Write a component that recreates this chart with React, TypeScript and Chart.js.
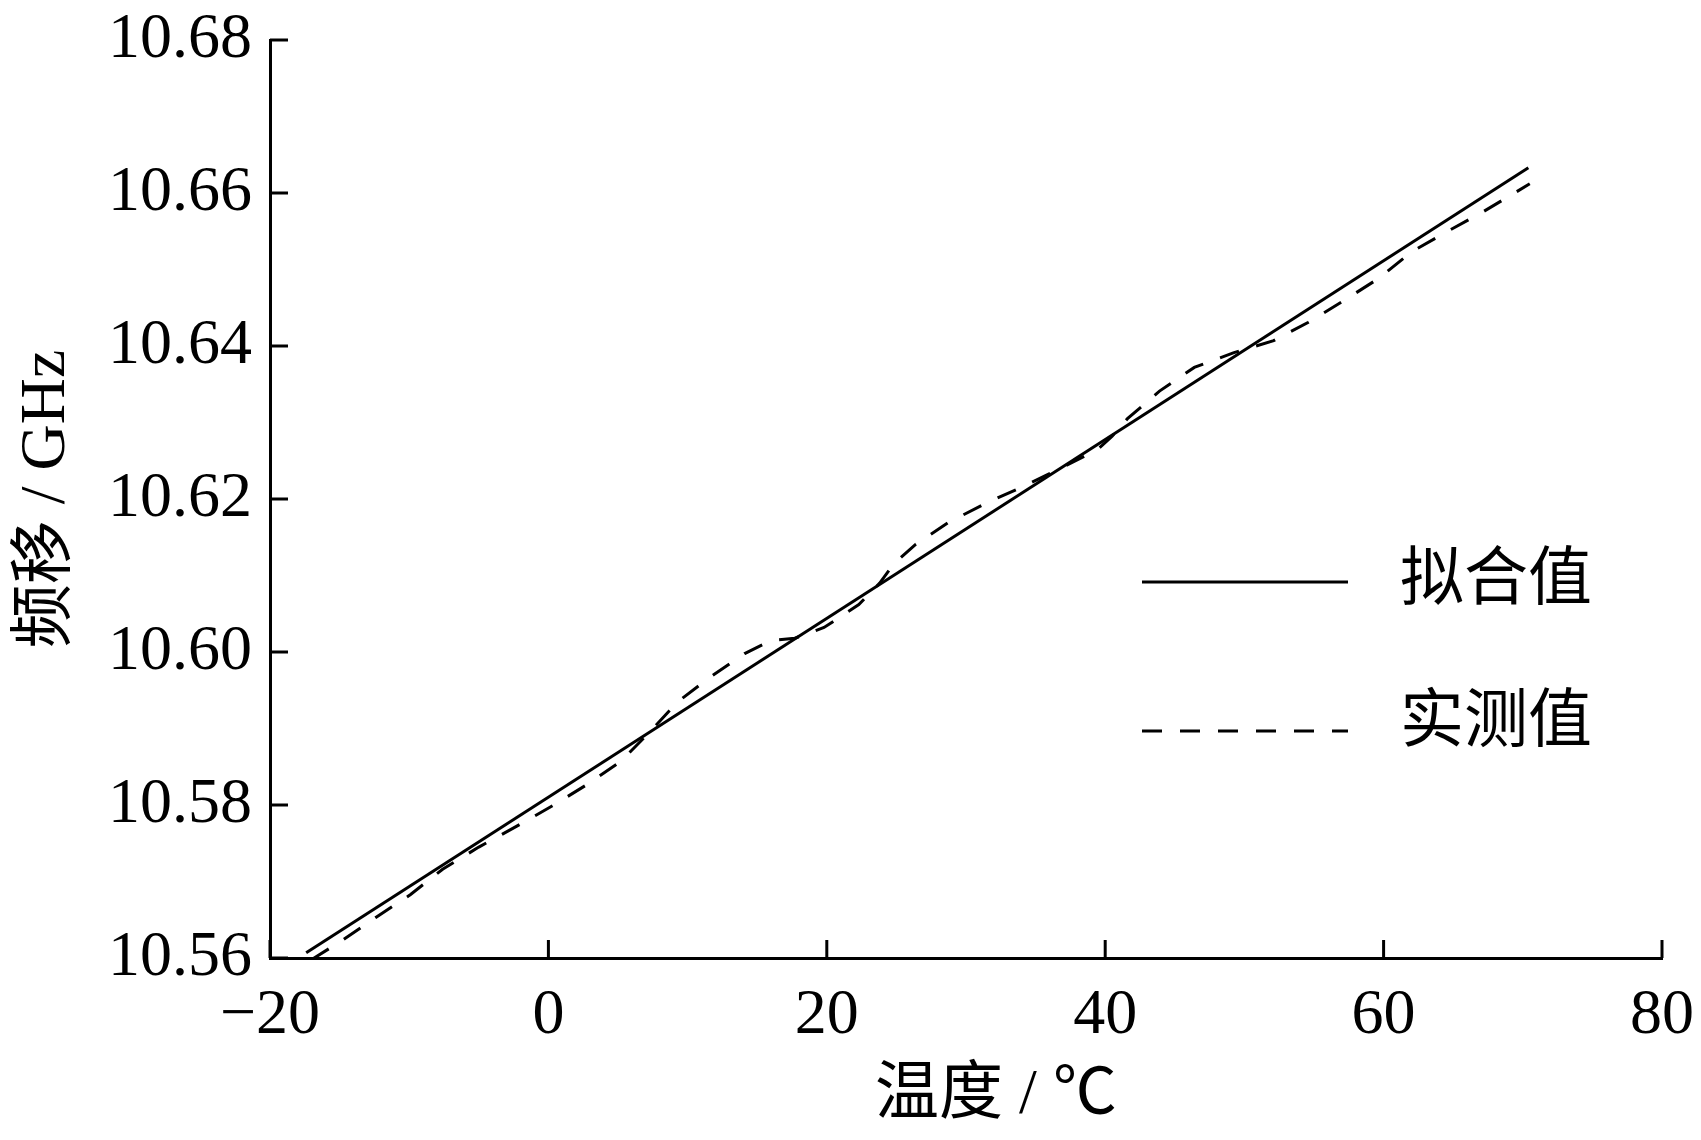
import React, { useEffect, useRef } from "react";
import { Chart, registerables } from "chart.js";

Chart.register(...registerables);

// ---- data ----
const fitTemps = [-17.4, 70.4];
const fitValues = [10.5607, 10.6633];

const measuredTemps = [
  -17.0, -14.9, -12.4, -9.9, -7.6, -5.0, -2.3, 0.3, 2.8, 5.2, 7.2, 9.3, 11.6,
  14.1, 16.0, 17.7, 19.8, 22.3, 23.8, 24.8, 26.4, 28.8, 31.5, 34.3, 37.0, 39.4,
  40.5, 41.6, 43.9, 46.4, 49.2, 52.1, 54.6, 57.2, 59.7, 62.0, 64.6, 67.2, 70.5,
];
const measuredValues = [
  10.5598, 10.5622, 10.5653, 10.5683, 10.5716, 10.5745, 10.5772, 10.5799,
  10.5827, 10.5857, 10.5894, 10.5935, 10.5967, 10.5998, 10.6015, 10.6018,
  10.6032, 10.6062, 10.609, 10.6115, 10.6141, 10.617, 10.6195, 10.6218,
  10.6242, 10.6264, 10.6282, 10.6305, 10.6341, 10.6372, 10.6391, 10.6407,
  10.6431, 10.646, 10.6489, 10.6523, 10.655, 10.6576, 10.6612,
];

const xTicks = [-20, 0, 20, 40, 60, 80];
const yTicks = [10.56, 10.58, 10.6, 10.62, 10.64, 10.66, 10.68];
const seriesNames = ["拟合值", "实测值"];
const xTitle = "温度 / ℃";
const yTitle = "频移 / GHz";

const FONT = "'Liberation Serif', 'Noto Sans CJK SC', serif";

const inwardTicks = {
  id: "inwardTicks",
  afterDatasetsDraw(chart: any) {
    const { ctx, chartArea, scales } = chart;
    const len = 18;
    ctx.save();
    ctx.strokeStyle = "#000";
    ctx.lineWidth = 3;
    scales.x.ticks.forEach((_t: any, i: number) => {
      const px = scales.x.getPixelForTick(i);
      ctx.beginPath();
      ctx.moveTo(px, chartArea.bottom);
      ctx.lineTo(px, chartArea.bottom - len);
      ctx.stroke();
    });
    scales.y.ticks.forEach((_t: any, i: number) => {
      const py = scales.y.getPixelForTick(i);
      ctx.beginPath();
      ctx.moveTo(chartArea.left, py);
      ctx.lineTo(chartArea.left + len, py);
      ctx.stroke();
    });
    ctx.restore();
  },
};

const xAxisTitle = {
  id: "xAxisTitle",
  afterDraw(chart: any, _args: any, opts: any) {
    const { ctx, chartArea } = chart;
    ctx.save();
    ctx.fillStyle = "#000";
    ctx.font = `64px ${FONT}`;
    ctx.textAlign = "center";
    ctx.textBaseline = "middle";
    ctx.fillText(opts.text, (chartArea.left + chartArea.right) / 2 + opts.dx, opts.y);
    ctx.restore();
  },
};

const innerLegend = {
  id: "innerLegend",
  afterDraw(chart: any, _args: any, opts: any) {
    const { ctx } = chart;
    ctx.save();
    chart.data.datasets.forEach((ds: any, i: number) => {
      const y = opts.rows[i];
      ctx.strokeStyle = ds.borderColor;
      ctx.lineWidth = ds.borderWidth;
      ctx.setLineDash(ds.borderDash || []);
      ctx.beginPath();
      ctx.moveTo(opts.lineX0, y);
      ctx.lineTo(opts.lineX1, y);
      ctx.stroke();
      ctx.setLineDash([]);
      ctx.fillStyle = "#000";
      ctx.font = `64px ${FONT}`;
      ctx.textBaseline = "middle";
      ctx.textAlign = "left";
      ctx.fillText(ds.label, opts.textX, opts.textRows[i]);
    });
    ctx.restore();
  },
};

export default function App() {
  const ref = useRef<HTMLCanvasElement>(null);

  useEffect(() => {
    document.body.style.margin = "0";
    const canvas = ref.current!;
    const chart = new Chart(canvas, {
      type: "line",
      data: {
        datasets: [
          {
            label: seriesNames[0],
            data: fitTemps.map((x, i) => ({ x, y: fitValues[i] })),
            borderColor: "#000",
            borderWidth: 3,
            pointRadius: 0,
            tension: 0,
          },
          {
            label: seriesNames[1],
            data: measuredTemps.map((x, i) => ({ x, y: measuredValues[i] })),
            borderColor: "#000",
            borderWidth: 3,
            borderDash: [20, 18],
            pointRadius: 0,
            tension: 0,
          },
        ],
      },
      options: {
        animation: false,
        responsive: false,
        devicePixelRatio: 1,
        layout: { padding: { top: 40, right: 39, left: 0, bottom: 0 } },
        plugins: {
          legend: { display: false },
          tooltip: { enabled: false },
          innerLegend: {
            lineX0: 1142,
            lineX1: 1348,
            rows: [582, 731],
            textX: 1400,
            textRows: [582, 724],
          },
          xAxisTitle: { text: xTitle, dx: 30, y: 1096 },
        } as any,
        scales: {
          x: {
            type: "linear",
            min: -20,
            max: 80,
            afterBuildTicks: (s: any) => {
              s.ticks = xTicks.map((v) => ({ value: v }));
            },
            afterFit: (s: any) => {
              s.height = 182;
              s.paddingLeft = 0;
              s.paddingRight = 0;
            },
            grid: { display: false, drawTicks: false },
            border: { display: true, color: "#000", width: 3 },
            ticks: {
              color: "#000",
              padding: 20,
              maxRotation: 0,
              font: { family: FONT, size: 64 },
              callback: (v: any) =>
                Number(v) < 0 ? "\u2212" + Math.abs(Number(v)) : String(v),
            },
            title: { display: false },
          },
          y: {
            type: "linear",
            min: 10.56,
            max: 10.68,
            afterBuildTicks: (s: any) => {
              s.ticks = yTicks.map((v) => ({ value: v }));
            },
            afterFit: (s: any) => {
              s.width = 270;
              s.paddingTop = 0;
              s.paddingBottom = 0;
            },
            grid: { display: false, drawTicks: false },
            border: { display: true, color: "#000", width: 3 },
            ticks: {
              color: "#000",
              padding: 18,
              font: { family: FONT, size: 64 },
              callback: (v: any) => Number(v).toFixed(2),
            },
            title: {
              display: true,
              text: yTitle,
              color: "#000",
              font: { family: FONT, size: 64 },
              padding: { top: 9, bottom: 0 },
            },
          },
        },
      },
      plugins: [inwardTicks, innerLegend, xAxisTitle],
    });
    return () => chart.destroy();
  }, []);

  return (
    <div style={{ width: 1701, height: 1140, background: "#fff" }}>
      <canvas
        ref={ref}
        width={1701}
        height={1140}
        style={{ display: "block", width: 1701, height: 1140 }}
      />
    </div>
  );
}
